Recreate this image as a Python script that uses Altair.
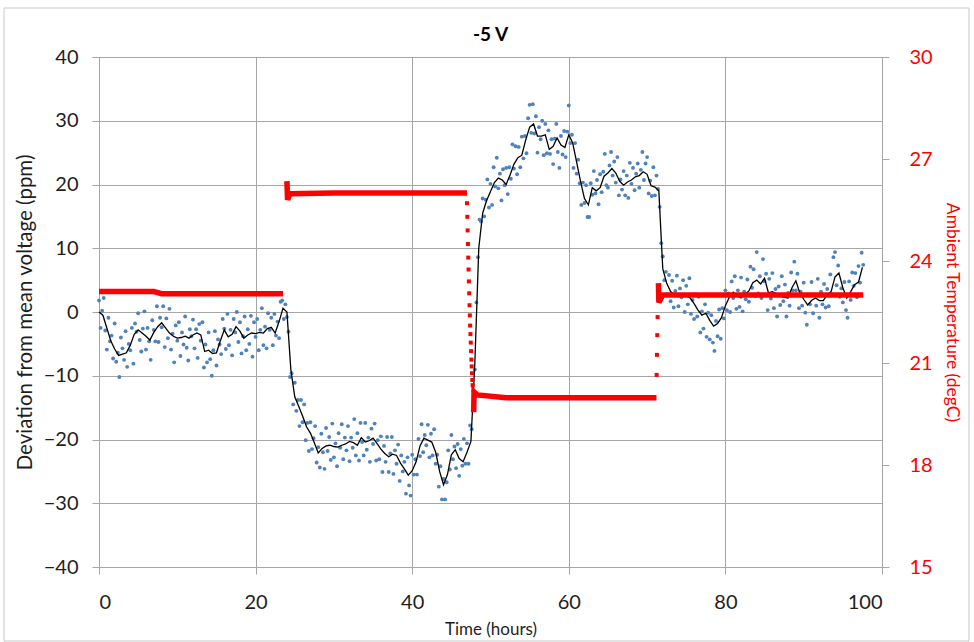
import altair as alt
import pandas as pd

# ---- measured deviation (ppm), one sample every 0.2 h ----
BLUE_STEP = 0.2
blue_ppm = [
    1.8, -2.5, 0.2, 2.2, -2.9,
    -5.9, -0.9, -4.6, -3.7, -7.3,
    -1.8, -7.8, -6.4, -10.2, -4.0,
    -5.7, -7.5, -3.0, -8.6, -5.0,
    -6.0, -2.5, -8.1, -1.8, -3.1,
    -0.2, -4.4, -6.2, -2.6, 0.1,
    -5.9, -2.5, -4.6, -7.5, -1.3,
    -2.8, -4.6, 0.9, -4.7, -0.9,
    -2.4, 0.9, -5.5, -1.0, -4.1,
    0.5, -5.9, -3.4, -7.9, -2.1,
    -4.5, -1.6, -6.9, -3.2, -5.1,
    -0.7, -5.6, -7.6, -2.7, -3.8,
    -1.2, -5.7, -2.7, -7.2, -1.9,
    -4.5, -1.6, -8.7, -5.1, -7.9,
    -3.2, -7.4, -10.0, -6.0, -3.0,
    -8.4, -4.3, -5.1, -6.6, -1.1,
    -2.6, -5.8, -0.3, -5.2, -2.8,
    -6.8, -1.1, -3.2, 0.0, -4.7,
    -1.6, -6.5, -3.8, -0.7, -6.0,
    -2.7, -5.0, -0.6, -7.0, -1.6,
    -3.9, -1.1, -6.0, -2.8, 0.6,
    -5.2, -2.3, -5.7, -0.2, -2.8,
    -0.9, -5.2, -0.3, -3.7, -1.5,
    -4.1, 1.6, 1.8, -1.1, 1.2,
    -0.8, -3.1, -10.2, -9.6, -14.5,
    -11.1, -15.5, -13.8, -17.9, -13.8,
    -17.3, -14.5, -20.1, -17.4, -21.8,
    -17.3, -21.5, -19.8, -17.9, -23.6,
    -21.2, -24.4, -19.1, -22.0, -24.6,
    -18.2, -21.8, -19.6, -23.2, -17.5,
    -22.8, -20.6, -24.2, -19.0, -21.3,
    -17.6, -23.1, -19.7, -21.7, -17.9,
    -23.4, -19.7, -21.3, -16.8, -22.5,
    -19.0, -23.3, -17.4, -20.4, -22.5,
    -17.4, -21.6, -19.7, -23.5, -18.3,
    -20.7, -17.5, -23.3, -20.1, -23.1,
    -19.5, -25.1, -21.0, -23.5, -19.6,
    -25.1, -22.2, -19.6, -25.4, -21.7,
    -23.8, -20.8, -26.5, -22.5, -25.0,
    -23.5, -28.5, -22.8, -27.2, -28.8,
    -22.4, -25.5, -23.1, -25.5, -19.9,
    -22.6, -17.6, -22.0, -19.3, -20.9,
    -17.7, -22.8, -19.1, -22.5, -18.4,
    -23.8, -22.4, -27.4, -24.2, -29.4,
    -26.2, -29.4, -26.7, -21.7, -24.7,
    -19.3, -23.1, -21.1, -24.5, -20.7,
    -25.7, -21.5, -24.1, -19.9, -23.8,
    -20.6, -23.8, -17.8, -18.4, -12.4,
    -9.0, 1.5, 8.6, 14.5, 14.2,
    17.8, 15.0, 17.6, 20.8, 16.4,
    20.1, 16.8, 22.7, 19.7, 24.2,
    19.4, 21.7, 17.5, 22.4, 19.9,
    22.6, 18.5, 22.7, 20.9, 26.3,
    22.5, 26.0, 21.6, 25.9, 22.7,
    27.5, 24.1, 27.6, 24.9, 30.4,
    32.5, 28.1, 32.6, 28.0, 30.7,
    25.0, 29.0, 27.1, 30.0, 24.6,
    29.5, 24.9, 28.5, 24.8, 27.1,
    23.2, 27.2, 29.5, 25.1, 22.6,
    27.6, 24.7, 28.4, 24.3, 28.3,
    32.4, 26.5, 27.8, 22.6, 26.5,
    21.7, 23.9, 20.2, 16.8, 20.3,
    17.1, 19.9, 14.9, 14.9, 20.2,
    18.4, 22.1, 18.6, 20.7, 16.9,
    21.6, 18.8, 22.0, 24.8, 19.9,
    19.5, 23.0, 25.1, 21.4, 23.6,
    20.3, 24.3, 18.3, 20.8, 19.2,
    22.1, 18.3, 21.4, 17.9, 23.4,
    20.1, 22.6, 19.1, 21.7, 23.3,
    19.5, 22.3, 25.1, 20.7, 23.3,
    24.3, 18.6, 20.6, 18.2, 22.7,
    18.3, 21.4, 19.3, 16.5, 10.8,
    8.7, 5.0, 6.3, 2.8, 5.8,
    1.7, 4.9, 0.7, 3.3, 5.7,
    0.9, 3.7, 2.3, 5.0, 0.0,
    4.1, 1.2, 5.3, -0.3, 1.9,
    -1.1, 2.8, -0.7, 2.4, -3.2,
    0.1, -2.6, 1.2, -3.9, -0.1,
    -4.3, -0.5, -4.8, -6.1, -1.4,
    -3.8, 0.4, -4.2, 0.6, -1.0,
    3.4, 0.3, 2.9, 0.0, 4.8,
    2.2, 5.6, 0.5, 3.4, 0.8,
    5.4, 0.1, 3.2, 2.0, 5.1,
    1.6, 7.1, 3.8, 6.7, 2.5,
    9.4, 2.9, 5.6, 2.2, 8.3,
    4.8, 6.0, 0.3, 5.2, 2.1,
    6.1, 0.6, 3.6, -0.7, 4.0,
    1.1, 5.6, 1.7, 4.3, -0.7,
    3.0, 1.0, 6.2, 3.4, 7.9,
    3.4, 6.0, 0.6, 3.2, 1.0,
    4.6, -0.1, -2.0, 2.7, 1.2,
    4.7, -0.2, 2.7, 1.0, 5.2,
    -0.9, 3.2, 1.2, 4.4, 0.7,
    3.6, 0.9, 5.9, 2.8, 8.6,
    9.4, 4.2, 7.3, 2.4, 3.7,
    1.5, 4.7, 0.3, -0.9, 4.8,
    1.9, 6.2, 4.1, 6.1, 2.3,
    7.2, 4.6, 9.3, 7.4,
]

# ---- moving average (ppm), one value every 0.5 h ----
AVG_STEP = 0.5
avg_ppm = [
    0.0, -0.5, -2.5, -4.5, -5.8, -6.8, -6.6, -6.4, -5.2, -3.5,
    -2.8, -3.3, -3.8, -4.4, -3.2, -2.3, -1.7, -2.5, -3.3, -3.8,
    -4.1, -4.0, -3.8, -4.1, -3.6, -3.3, -3.6, -6.2, -6.0, -6.5,
    -6.4, -4.5, -2.8, -3.9, -3.5, -2.3, -3.0, -4.1, -3.6, -3.3,
    -3.4, -3.2, -3.3, -2.6, -2.4, -3.3, -1.5, 0.6, 0.0, -9.0,
    -13.3, -14.8, -16.3, -18.0, -19.0, -20.5, -22.1, -21.4, -21.0, -20.9,
    -21.1, -21.2, -20.9, -20.7, -20.3, -20.5, -20.9, -19.7, -20.4, -20.2,
    -19.8, -20.6, -21.5, -22.2, -22.7, -22.3, -22.5, -23.7, -24.6, -25.6,
    -24.9, -23.5, -21.0, -19.8, -20.1, -20.4, -22.0, -25.0, -27.1, -25.5,
    -22.4, -21.6, -23.0, -23.5, -22.0, -20.3, -8.0, 10.0, 15.5, 17.5,
    18.9, 20.3, 21.0, 20.7, 20.0, 21.5, 23.2, 24.2, 24.6, 27.0,
    29.0, 29.5, 27.6, 27.6, 27.8, 25.5, 26.0, 27.3, 26.2, 25.8,
    27.8, 26.5, 23.5, 20.5, 17.8, 16.8, 19.5, 19.0, 19.5, 21.3,
    21.8, 22.5, 21.8, 20.5, 19.9, 20.4, 20.7, 21.2, 21.4, 22.0,
    21.6, 19.8, 19.6, 19.0, 6.8, 4.5, 3.2, 2.7, 2.7, 2.7,
    2.5, 2.2, 1.3, 0.3, -0.5, -0.2, -1.3, -2.2, -1.8, -0.9,
    1.0, 2.3, 3.1, 2.6, 2.2, 2.8, 3.3, 4.6, 5.0, 4.4,
    5.3, 3.0, 3.2, 2.9, 2.5, 2.3, 2.2, 3.8, 4.9, 3.0,
    2.0, 1.1, 1.8, 2.2, 1.8, 1.8, 2.7, 3.2, 5.5, 6.1,
    3.8, 2.2, 3.2, 4.3, 4.7, 7.0,
]

# ---- ambient temperature (degC): steady periods drawn as a thick trace ----
temp_seg = ["a", "a", "a", "a",
            "b", "b", "b", "b", "b",
            "c", "c", "c", "c", "c",
            "d", "d", "d", "d"]
temp_hours = [0.0, 7.0, 8.0, 23.5,
              24.0, 24.08, 24.4, 30.0, 47.0,
              47.85, 47.9, 48.3, 52.0, 71.2,
              71.45, 71.5, 72.0, 97.6]
temp_degc = [23.1, 23.1, 23.04, 23.04,
             26.35, 25.8, 25.98, 26.0, 26.0,
             19.55, 20.15, 20.06, 19.98, 19.98,
             23.35, 22.78, 23.0, 23.0]

# ---- ambient temperature (degC): individual samples during the steps ----
step_hours = [47.0, 47.04, 47.08, 47.12, 47.16, 47.2, 47.24, 47.28, 47.32, 47.36,
              47.4, 47.44, 47.48, 47.52, 47.56, 47.6, 47.64, 47.68, 47.72,
              71.22, 71.26, 71.3, 71.34]
step_degc = [25.7, 25.3, 24.9, 24.5, 24.1, 23.75, 23.4, 23.05, 22.7, 22.4,
             22.1, 21.85, 21.6, 21.35, 21.1, 20.9, 20.7, 20.5, 20.35,
             20.65, 21.24, 21.82, 22.35]

CHART_TITLE = "-5 V"

FONT = "Lato"
INK = "#1e1e1e"
GRID = "#a6a6a6"
BLUE = "#4f81bd"
RED = "#ff0000"

blue_df = pd.DataFrame({"hours": [round(i * BLUE_STEP, 2) for i in range(len(blue_ppm))],
                        "ppm": blue_ppm})
avg_df = pd.DataFrame({"hours": [i * AVG_STEP for i in range(len(avg_ppm))],
                       "ppm": avg_ppm})
temp_df = pd.DataFrame({"hours": temp_hours, "degc": temp_degc, "seg": temp_seg})
step_df = pd.DataFrame({"hours": step_hours, "degc": step_degc})

x_scale = alt.Scale(domain=[0, 100], nice=False, zero=False)
x_axis = alt.Axis(values=list(range(0, 101, 20)), title="Time (hours)",
                  grid=True, gridColor=GRID, domainColor=GRID, tickColor=GRID,
                  tickSize=7, labelFontSize=20, labelColor=INK, labelPadding=18,
                  titleFontSize=17, titleFontWeight="normal", titleColor=INK,
                  titlePadding=9, labelFont=FONT, titleFont=FONT)
y_scale = alt.Scale(domain=[-40, 40], nice=False)
y_axis = alt.Axis(values=list(range(-40, 41, 10)), orient="left",
                  title="Deviation from mean voltage (ppm)",
                  grid=True, gridColor=GRID, domainColor=GRID, tickColor=GRID,
                  tickSize=7, labelFontSize=20, labelColor=INK, labelPadding=14,
                  titleFontSize=20.5, titleFontWeight="normal", titleColor=INK,
                  titlePadding=8, labelFont=FONT, titleFont=FONT)
t_scale = alt.Scale(domain=[15, 30], nice=False, zero=False)
t_axis = alt.Axis(values=list(range(15, 31, 3)), orient="right",
                  title="Ambient Temperature (degC)", grid=False,
                  domainColor=GRID, tickColor=GRID, tickSize=7,
                  labelFontSize=20, labelColor=RED, labelPadding=20,
                  titleFontSize=17.5, titleFontWeight="normal", titleColor=RED,
                  titlePadding=10, labelFont=FONT, titleFont=FONT)

blue = alt.Chart(blue_df).mark_circle(size=15, color=BLUE, opacity=1).encode(
    x=alt.X("hours:Q", scale=x_scale, axis=x_axis),
    y=alt.Y("ppm:Q", scale=y_scale, axis=y_axis),
)
avg = alt.Chart(avg_df).mark_line(color="black", strokeWidth=1.3).encode(
    x=alt.X("hours:Q", scale=x_scale),
    y=alt.Y("ppm:Q", scale=y_scale, axis=None),
)
temp = alt.Chart(temp_df).mark_line(color=RED, strokeWidth=5.5).encode(
    x=alt.X("hours:Q", scale=x_scale),
    y=alt.Y("degc:Q", scale=t_scale, axis=t_axis),
    detail="seg:N",
)
steps = alt.Chart(step_df).mark_square(size=16, color=RED, opacity=1).encode(
    x=alt.X("hours:Q", scale=x_scale),
    y=alt.Y("degc:Q", scale=t_scale, axis=None),
)

# thin light frame around the whole figure
frame = alt.Chart(pd.DataFrame({"k": [0]})).mark_rect(
    fill=None, stroke="#c8c8c8", strokeWidth=1
).encode(
    x=alt.value(-95), x2=alt.value(870), y=alt.value(-49), y2=alt.value(584)
)

chart = alt.layer(blue, avg, temp, steps, frame).resolve_scale(y="independent").properties(
    width=783, height=510,
    title=alt.TitleParams(CHART_TITLE, fontSize=19, fontWeight="bold", font=FONT,
                          color="black", offset=-37, anchor="middle"),
    autosize=alt.AutoSizeParams(type="none"),
    padding={"left": 99, "top": 57, "right": 92, "bottom": 75},
).configure_view(stroke=None).configure(background="white")

chart.save("out.html", embed_options={"renderer": "svg", "actions": False})
